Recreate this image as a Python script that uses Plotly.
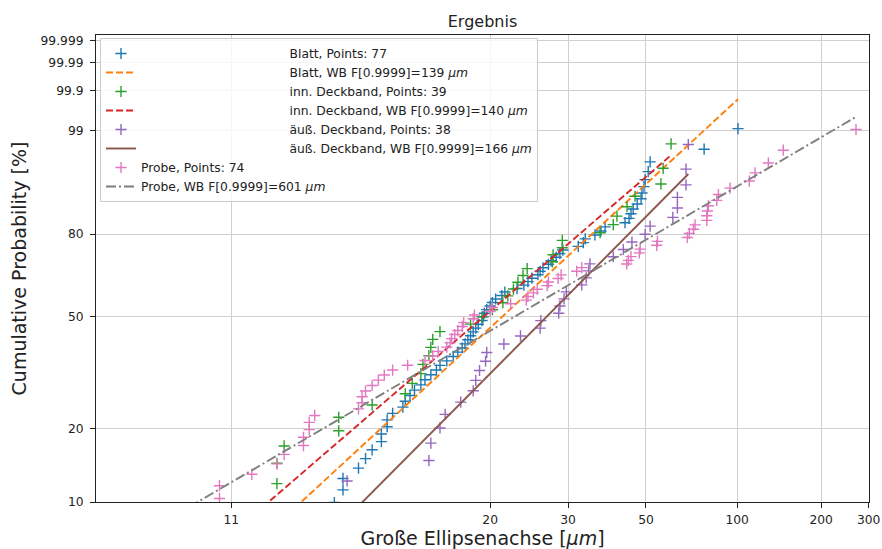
import numpy as np
import plotly.graph_objects as go

# ---------------- data ----------------
GAMMA = 10.0  # threshold of the 3-parameter Weibull: x axis shows ln(x - GAMMA)

x_ticks = [11, 20, 30, 50, 100, 200, 300]
x_tick_text = ["11", "20", "30", "50", "100", "200", "300"]
y_ticks = [10, 20, 50, 80, 99, 99.9, 99.99, 99.999]
y_tick_text = ["10", "20", "50", "80", "99", "99.9", "99.99", "99.999"]
x_range_um = [10.30, 300.9]
y_range_pct = [10.0, 99.9995]

# sorted sample values (visible ranks only; ranks below 10 % are off-chart)
blatt_n = 77
blatt_first_rank = 8
blatt_x = [12.5, 12.7, 12.7, 13.1, 13.3, 13.5, 13.8, 13.8, 14.0, 14.0,
           14.2, 14.6, 14.7, 14.9, 15.1, 15.4, 15.6, 15.9, 16.2, 16.4,
           16.8, 17.2, 17.5, 17.8, 18.0, 18.2, 18.4, 18.6, 18.8, 19.0,
           19.3, 19.4, 19.5, 19.7, 20.0, 20.2, 20.5, 21.1, 21.4, 22.7,
           23.5, 24.0, 24.5, 25.3, 25.6, 26.0, 26.8, 27.2, 28.0, 28.6,
           29.1, 31.9, 32.9, 33.3, 35.4, 36.8, 37.8, 43.2, 44.4, 45.0,
           45.7, 47.0, 48.3, 48.6, 49.3, 49.7, 50.8, 51.5, 77.1, 100.7]

inn_n = 39
inn_first_rank = 5
inn_x = [11.5, 11.5, 11.6, 12.6, 12.6, 13.5, 14.7, 15.0, 15.4, 15.5,
         15.8, 15.9, 16.0, 16.4, 18.4, 19.3, 20.2, 21.2, 21.7, 22.3,
         22.8, 23.4, 23.9, 27.4, 27.5, 29.0, 29.0, 36.6, 39.9, 40.9,
         43.8, 46.3, 55.7, 56.6, 60.0]

aus_n = 38
aus_first_rank = 5
aus_x = [12.8, 15.8, 15.9, 16.4, 16.7, 17.7, 18.6, 18.8, 19.1, 19.6,
         19.7, 21.3, 23.1, 25.6, 25.7, 28.4, 28.6, 29.3, 29.7, 32.6,
         33.5, 34.0, 34.3, 39.9, 42.7, 45.3, 49.7, 51.5, 60.8, 62.9,
         62.9, 67.1, 67.1, 68.3]

probe_n = 74
probe_first_rank = 8
probe_x = [10.9, 10.9, 11.2, 11.5, 11.6, 11.9, 11.9, 12.0, 12.0, 12.1,
           13.1, 13.2, 13.2, 13.3, 13.5, 13.7, 13.9, 14.2, 14.8, 15.6,
           16.0, 16.3, 16.8, 17.0, 17.1, 17.3, 17.5, 17.8, 17.9, 18.6,
           18.7, 20.0, 20.2, 22.0, 23.8, 24.0, 24.7, 25.2, 26.6, 26.8,
           28.3, 28.8, 31.6, 32.6, 43.7, 44.2, 45.0, 47.7, 48.0, 54.0,
           54.3, 67.8, 68.8, 71.0, 71.9, 78.7, 78.7, 79.1, 79.7, 85.1,
           86.2, 94.5, 110.3, 115.5, 128.8, 145.7, 269.1]

# Weibull fits: shape beta and the x value at F = 0.9999
fit_beta = [1.055, 0.9855, 1.1514, 0.6691]
fit_x9999 = [139, 140, 166, 601]

series_names = ["Blatt", "inn. Deckband", "äuß. Deckband", "Probe"]
point_colors = ["#1f77b4", "#2ca02c", "#9467bd", "#e377c2"]
line_colors = ["#ff7f0e", "#d62728", "#8c564b", "#7f7f7f"]
line_dashes = ["7px,3px", "7px,3px", "solid", "10px,3px,2px,3px"]

# ---------------- transforms ----------------
def tx(x):
    return np.log(np.asarray(x, dtype=float) - GAMMA)

def ty(p):
    return np.log(-np.log(1.0 - np.asarray(p, dtype=float) / 100.0))

def median_rank_pct(n, first, count):
    ranks = np.arange(first, first + count)
    return (ranks - 0.3) / (n + 0.4) * 100.0

samples = [(blatt_n, blatt_first_rank, blatt_x),
           (inn_n, inn_first_rank, inn_x),
           (aus_n, aus_first_rank, aus_x),
           (probe_n, probe_first_rank, probe_x)]

pad = "\u00a0" * 38
FONT = "DejaVu Sans"

fig = go.Figure()
w9999 = ty(99.99)
for k, (n, first, xs) in enumerate(samples):
    pct = median_rank_pct(n, first, len(xs))
    prefix = pad if k < 3 else ""
    fig.add_trace(go.Scatter(
        x=tx(xs), y=ty(pct), mode="markers",
        name=f"{prefix}{series_names[k]}, Points: {n}",
        marker=dict(symbol="cross-thin", size=8, color=point_colors[k],
                    line=dict(color=point_colors[k], width=1.4)),
    ))
    beta = fit_beta[k]
    u_end = tx([x_range_um[0], max(xs)])
    w_line = beta * (u_end - tx(fit_x9999[k])) + w9999
    fig.add_trace(go.Scatter(
        x=u_end, y=w_line, mode="lines",
        name=f"{prefix}{series_names[k]}, WB F[0.9999]={fit_x9999[k]} <i>µm</i>",
        line=dict(color=line_colors[k], width=1.9, dash=line_dashes[k]),
    ))

axis_common = dict(
    automargin=False,
    showline=True, linecolor="#222222", linewidth=1, mirror=True,
    ticks="outside", ticklen=5, tickwidth=1, tickcolor="#222222",
    showgrid=True, gridcolor="#cfcfcf", gridwidth=1, zeroline=False,
    tickfont=dict(family=FONT, size=12.3, color="#222222"),
)

fig.update_layout(
    width=882, height=549,
    margin=dict(l=96, r=13, t=35, b=47, autoexpand=False),
    paper_bgcolor="white", plot_bgcolor="white",
    font=dict(family=FONT, color="#222222"),
    title=dict(text="Ergebnis", x=0.5, xref="paper", xanchor="center",
               y=1 - 21 / 549, yref="container", yanchor="middle",
               font=dict(family=FONT, size=16, color="#222222")),
    xaxis=dict(axis_common, range=list(tx(x_range_um)), tickmode="array",
               tickvals=list(tx(x_ticks)), ticktext=x_tick_text,
               ticklabelstandoff=1,
               title=dict(text="Große Ellipsenachse [<i>µm</i>]", standoff=11,
                          font=dict(family=FONT, size=19, color="#222222"))),
    yaxis=dict(axis_common, range=list(ty(y_range_pct)), tickmode="array",
               tickvals=list(ty(y_ticks)), ticktext=y_tick_text,
               ticklabelstandoff=4,
               title=dict(text="Cumulative Probability [%]", standoff=8,
                          font=dict(family=FONT, size=19, color="#222222"))),
    legend=dict(x=4 / 773, y=(502 - 38) / 467, xanchor="left", yanchor="top",
                bgcolor="rgba(255,255,255,0.8)", bordercolor="#cccccc",
                borderwidth=1, itemwidth=30,
                font=dict(family=FONT, size=12.3, color="#222222")),
    showlegend=True,
)

fig.write_html("out.html")
